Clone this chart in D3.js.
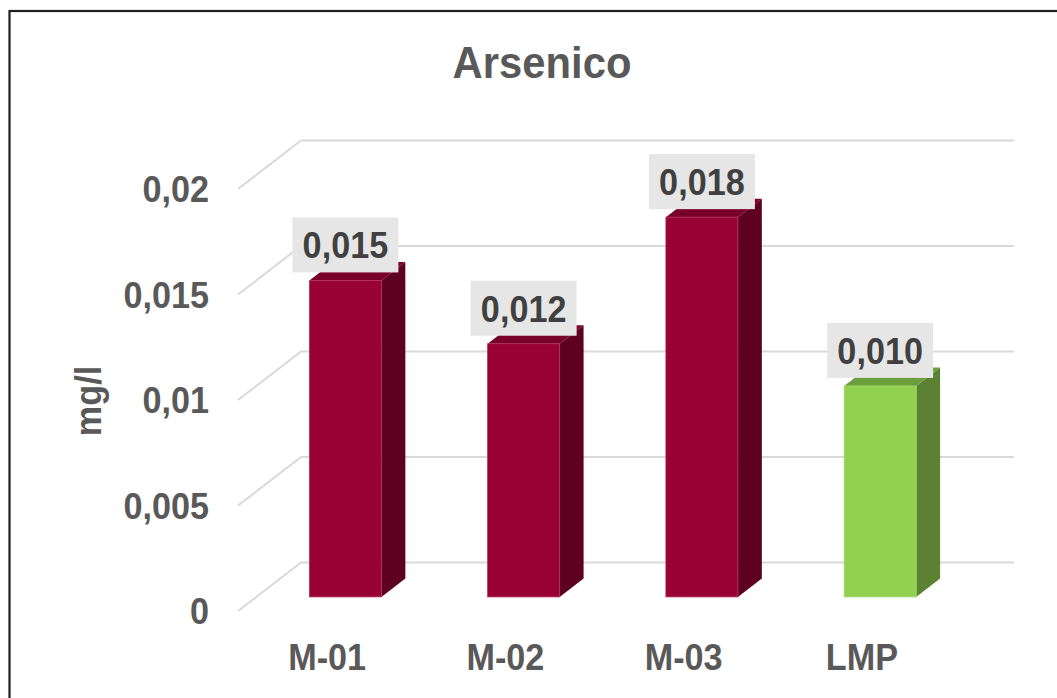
<!DOCTYPE html>
<html>
<head>
<meta charset="utf-8">
<script src="https://cdn.jsdelivr.net/npm/d3@7"></script>
<style>
  html, body { margin: 0; padding: 0; background: #ffffff; }
  svg { display: block; }
  text { font-family: "Liberation Sans", Arial, sans-serif; font-weight: bold; }
</style>
</head>
<body>
<svg id="chart" width="1057" height="698"></svg>
<script>
// ---- data ----
const title = "Arsenico";
const yAxisTitle = "mg/l";
const categories = ["M-01", "M-02", "M-03", "LMP"];
const values = [0.015, 0.012, 0.018, 0.010];
const valueLabels = ["0,015", "0,012", "0,018", "0,010"];
const yTickValues = [0, 0.005, 0.01, 0.015, 0.02];
const yTickLabels = ["0", "0,005", "0,01", "0,015", "0,02"];
const limitCategory = "LMP";

// ---- layout ----
const W = 1057, H = 698;
const DX = 63, DY = -48.5;          // oblique depth offset (full depth)
const dFront = 0.29, dBack = 0.67;  // bar depth span
const SX = 0.95;                    // horizontal text compression

const svg = d3.select("#chart");

const x = d3.scaleBand()
  .domain(categories)
  .range([238, 951])
  .paddingInner(0.596)
  .paddingOuter(0.298);

const y = d3.scaleLinear()
  .domain([0, 0.02])
  .range([611, 189]);

const P = (px, v, d) => [px + d * DX, y(v) + d * DY];

// chart border
svg.append("rect")
  .attr("x", 9.5).attr("y", 11)
  .attr("width", 1200).attr("height", 900)
  .attr("fill", "#ffffff")
  .attr("stroke", "#1f1f1f")
  .attr("stroke-width", 2.2);

// title
svg.append("text")
  .attr("transform", `translate(542,78) scale(${SX},1)`)
  .attr("text-anchor", "middle")
  .attr("font-size", 44)
  .attr("fill", "#595959")
  .text(title);

// gridlines (side wall diagonal + back wall horizontal)
const x0 = x.range()[0], x1 = x.range()[1];
const grid = svg.append("g").attr("fill", "none").attr("stroke", "#d9d9d9").attr("stroke-width", 2);
yTickValues.forEach(v => {
  const a = P(x0, v, 0), b = P(x0, v, 1), c = P(x1, v, 1);
  grid.append("path").attr("d", d3.line()([a, b, c]));
});

// y tick labels
svg.append("g").selectAll("text")
  .data(yTickValues)
  .join("text")
  .attr("transform", (v) => `translate(209,${y(v) + 13}) scale(${SX},1)`)
  .attr("text-anchor", "end")
  .attr("font-size", 36)
  .attr("fill", "#595959")
  .text((v, i) => yTickLabels[i]);

// y axis title
svg.append("text")
  .attr("transform", `translate(101,401) rotate(-90) scale(${SX},1)`)
  .attr("text-anchor", "middle")
  .attr("font-size", 36)
  .attr("fill", "#595959")
  .text(yAxisTitle);

// bars
const colorsFor = (cat) => cat === limitCategory
  ? { front: "#92d050", side: "#5a8232", top: "#6b9e3b", edge: "#a8dc70" }
  : { front: "#990033", side: "#5e001f", top: "#790028", edge: "#b03358" };

const bars = svg.append("g");
categories.forEach((cat, i) => {
  const v = values[i];
  const c = colorsFor(cat);
  const bx0 = x(cat), bx1 = x(cat) + x.bandwidth();
  const g = bars.append("g");
  // side face
  g.append("path")
    .attr("d", d3.line()([P(bx1, 0, dFront), P(bx1, v, dFront), P(bx1, v, dBack), P(bx1, 0, dBack)]) + "Z")
    .attr("fill", c.side);
  // top face
  g.append("path")
    .attr("d", d3.line()([P(bx0, v, dFront), P(bx1, v, dFront), P(bx1, v, dBack), P(bx0, v, dBack)]) + "Z")
    .attr("fill", c.top);
  // front face
  const tl = P(bx0, v, dFront), br = P(bx1, 0, dFront);
  g.append("rect")
    .attr("x", tl[0]).attr("y", tl[1])
    .attr("width", br[0] - tl[0]).attr("height", br[1] - tl[1])
    .attr("fill", c.front)
    .attr("stroke", c.edge).attr("stroke-width", 0.8);
});

// data labels
const lbl = svg.append("g");
categories.forEach((cat, i) => {
  const v = values[i];
  const cx = x(cat) + x.bandwidth() / 2 + dFront * DX;
  const topY = y(v) + dFront * DY;
  const bw = 106, bh = 55;
  const bottom = topY - 8;
  lbl.append("rect")
    .attr("x", cx - bw / 2).attr("y", bottom - bh)
    .attr("width", bw).attr("height", bh)
    .attr("fill", "#e6e6e6");
  lbl.append("text")
    .attr("transform", `translate(${cx},${bottom - 14}) scale(${SX},1)`)
    .attr("text-anchor", "middle")
    .attr("font-size", 36)
    .attr("fill", "#404040")
    .text(valueLabels[i]);
});

// category labels
svg.append("g").selectAll("text")
  .data(categories)
  .join("text")
  .attr("transform", (d) => `translate(${x(d) + x.bandwidth() / 2},670) scale(${SX},1)`)
  .attr("text-anchor", "middle")
  .attr("font-size", 36)
  .attr("fill", "#595959")
  .text(d => d);
</script>
</body>
</html>
